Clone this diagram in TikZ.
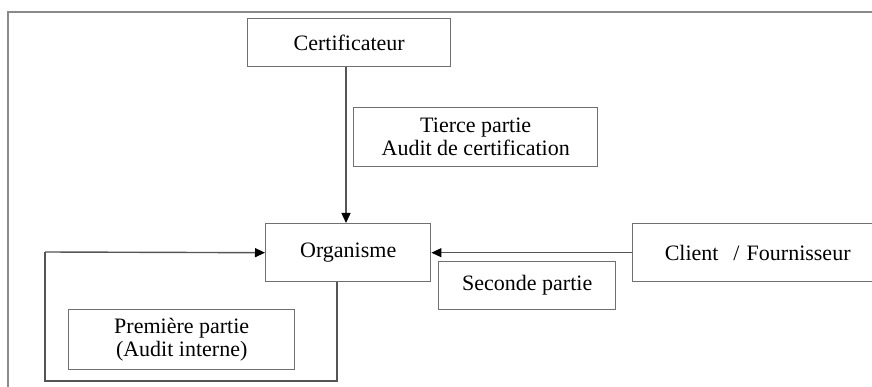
\documentclass[tikz,border=0pt]{standalone}
\usepackage{fontspec}
\setmainfont{Liberation Serif}
\usetikzlibrary{arrows.meta,calc}
\definecolor{boxline}{HTML}{707070}
\definecolor{frameline}{HTML}{8A8A8A}
\definecolor{linkline}{HTML}{555555}
\tikzset{
  box/.style={draw=boxline, line width=1.4pt, rectangle, inner sep=0pt,
    anchor=north west, align=center, font=\fontsize{22}{24}\selectfont},
  link/.style={draw=linkline, line width=1.4pt,
    -{Triangle[length=10pt,width=9pt,color=black]}},
  plain/.style={draw=linkline, line width=1.4pt}
}
\begin{document}
\begin{tikzpicture}[x=1pt,y=-1pt]
  \useasboundingbox (0,0) rectangle (872,387);
  % outer frame (top and left edges)
  \draw[frameline, line width=2pt] (8,387) -- (8,12) -- (872,12);

  \node[box, minimum width=203pt, minimum height=48pt] (cert) at (247,18) {Certificateur};
  \node[box, minimum width=244pt, minimum height=59pt] (tierce) at (353,107)
    {Tierce partie\\[-1pt]Audit de certification};
  \node[box, minimum width=165pt, minimum height=58pt] (org) at (265,223) {Organisme};
  \node[box, minimum width=250pt, minimum height=58pt, text width=242pt] (client) at (632,223)
    {Client \ / Fournisseur};
  \node[box, minimum width=177pt, minimum height=48pt] (seconde) at (438,261) {Seconde partie};
  \node[box, minimum width=226pt, minimum height=60pt] (prem) at (68,309)
    {Première partie\\[-1pt](Audit interne)};

  % certification link
  \draw[link] (cert.south -| 346,0) -- (org.north -| 346,0);
  % second party link
  \draw[link] (client.west) -- (org.east);
  % internal audit loop
  \coordinate (loopa) at (337,381);
  \coordinate (loopb) at (45,381);
  \coordinate (loopc) at (45,252);
  \draw[plain] (org.south -| 337,0) -- (loopa) -- (loopb) -- (loopc);
  \draw[link] (loopc) -- (org.west);
\end{tikzpicture}
\end{document}
